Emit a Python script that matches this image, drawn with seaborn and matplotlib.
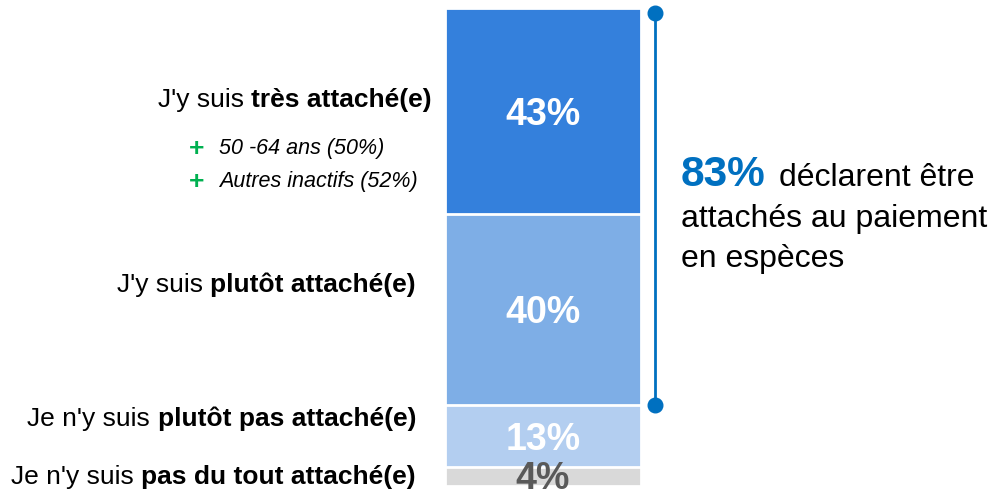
import matplotlib
matplotlib.use("Agg")
import matplotlib.pyplot as plt
import pandas as pd
import seaborn as sns

# data
levels = ["J'y suis très attaché(e)", "J'y suis plutôt attaché(e)",
          "Je n'y suis plutôt pas attaché(e)", "Je n'y suis pas du tout attaché(e)"]
label_regular = ["J'y suis", "J'y suis", "Je n'y suis", "Je n'y suis"]
label_bold = ["très attaché(e)", "plutôt attaché(e)", "plutôt pas attaché(e)", "pas du tout attaché(e)"]
shares = [43, 40, 13, 4]
sub_labels = ["50 -64 ans (50%)", "Autres inactifs (52%)"]
total_attached = 83
summary_lines = ["déclarent être", "attachés au paiement", "en espèces"]

colors = ["#3480dc", "#7eaee6", "#b3cef0", "#d9d9d9"]
pct_colors = ["white", "white", "white", "#595959"]
blue = "#0070c0"
green = "#00b050"

sns.set_theme(style="white")
plt.rcParams["font.family"] = ["Liberation Sans", "DejaVu Sans"]

# stacked from the top: top edge of each segment
tops = []
acc = 100
for s in shares:
    tops.append(acc)
    acc -= s
df = pd.DataFrame({"level": levels, "top": tops, "x": ["" for _ in levels]})

W, H = 991, 493
fig = plt.figure(figsize=(W / 100, H / 100), dpi=100)
ax = fig.add_axes([445 / W, 1 - 486 / H, 196 / W, 478 / H])

# overlapping cumulative bars -> stacked look, white edges as separators
sns.barplot(data=df, x="x", y="top", hue="level", hue_order=levels, palette=colors,
            saturation=1, dodge=False, width=1, edgecolor="white", linewidth=2,
            errorbar=None, legend=False, ax=ax)
ax.set_xlim(-0.5, 0.5)
ax.set_ylim(0, 100)
ax.axis("off")

for t, s, c in zip(tops, shares, pct_colors):
    if s < 6:
        ax.text(0, t - s - 0.6, f"{s}%", ha="center", va="baseline", fontsize=27,
                fontweight="bold", color=c, clip_on=False)
    else:
        ax.text(0, t - s / 2, f"{s}%", ha="center", va="center_baseline", fontsize=27,
                fontweight="bold", color=c, clip_on=False)

# bracket for the attached total
bx = (655 - 445) / 196 - 0.5
ax.plot([bx, bx], [tops[2], 99], color=blue, lw=2, marker="o", markersize=10.5,
        clip_on=False)

fig.canvas.draw()
renderer = fig.canvas.get_renderer()


def fx(px):
    return px / W


def fy(py):
    return 1 - py / H


def right_label(x, y, regular, bold, size):
    t = fig.text(fx(x), fy(y), bold, ha="right", va="baseline", fontsize=size,
                 fontweight="bold", color="black")
    bb = t.get_window_extent(renderer)
    gap = 0.28 * size * 100 / 72
    fig.text(fx(bb.x0 - gap), fy(y), regular, ha="right", va="baseline",
             fontsize=size, color="black")


label_pos = [(432, 107), (416, 292), (416, 426), (416, 484)]
for (x, y), reg, bold in zip(label_pos, label_regular, label_bold):
    right_label(x, y, reg, bold, 19)

for y, txt in zip([154, 187], sub_labels):
    fig.text(fx(219), fy(y), txt, ha="left", va="baseline", fontsize=15.5,
             style="italic", color="black")
    fig.text(fx(197), fy(y - 5), "+", ha="center", va="center", fontsize=19,
             fontweight="bold", color=green)

# summary text
t83 = fig.text(fx(681), fy(186), f"{total_attached}%", ha="left", va="baseline",
               fontsize=30.5, fontweight="bold", color=blue)
bb = t83.get_window_extent(renderer)
fig.text(fx(bb.x1 + 13), fy(186), summary_lines[0], ha="left", va="baseline",
         fontsize=23, color="black")
for y, txt in zip([227, 267], summary_lines[1:]):
    fig.text(fx(681), fy(y), txt, ha="left", va="baseline", fontsize=23,
             color="black")

fig.savefig("out.png", dpi=100)
